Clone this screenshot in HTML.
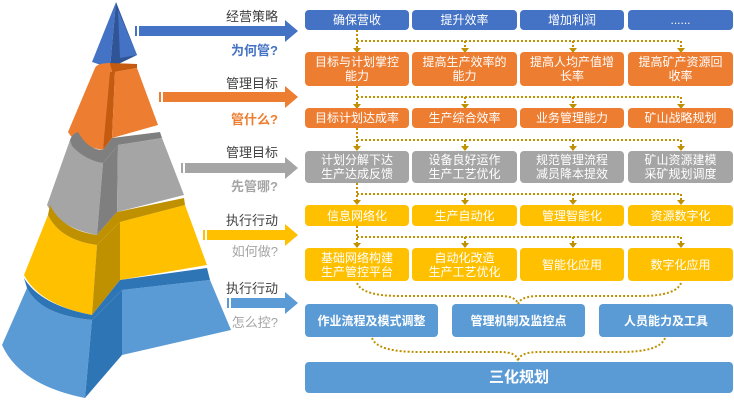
<!DOCTYPE html>
<html><head><meta charset="utf-8"><style>
body{margin:0;background:#fff;width:734px;height:400px;overflow:hidden;position:relative;font-family:"Liberation Sans","Noto Sans CJK SC",sans-serif}
.b{position:absolute;border-radius:4px;color:#fff;display:flex;align-items:center;justify-content:center;text-align:center;font-size:12px;line-height:14px}
.bl{background:#4472C4}.or{background:#ED7D31}.gr{background:#A5A5A5}.ye{background:#FFC000}.lb{background:#5B9BD5}
.t{position:absolute;font-size:13px;text-align:right;width:120px;left:158px;color:#404040}
.q{position:absolute;font-size:13px;font-weight:bold;text-align:right;width:120px;left:158px}
</style></head><body>
<svg width="734" height="400" style="position:absolute;left:0;top:0">
<path d="M116,2 L92,62 L110,68 Z" fill="#4472C4"/>
<path d="M116,2 L110,68 L137,55 Z" fill="#2F5597"/>
<path d="M118,10 L137,55 L120,58 Z" fill="#4472C4"/>
<path d="M95,68 Q97,63 110,63 L112,72 L103,150 Q75,145 68,132 Z" fill="#ED7D31"/>
<path d="M110,63 L137,64 L137,68 L115,72 L112,72Z" fill="#C55A11"/>
<path d="M110,72 L115,72 L112,138 L103,150 Z" fill="#C55A11"/>
<path d="M115,72 L137,68 L158,125 L112,138 Z" fill="#ED7D31"/>
<path d="M103,150 L112,138 L160,132 L162,138 L118,145 L103,163 Z" fill="#7F7F7F"/>
<path d="M70,140 Q85,158 103,160 L103,163 L97,235 Q60,228 47,205 Z" fill="#A5A5A5"/>
<path d="M70,140 Q72,134 78,132 Q88,150 103,150 L103,163 Q85,160 72,146Z" fill="#7F7F7F"/>
<path d="M103,163 L118,145 L117,212 L97,235 Z" fill="#7F7F7F"/>
<path d="M118,145 L162,138 L184,195 L117,212 Z" fill="#A5A5A5"/>
<path d="M48,215 Q60,240 97,245 L92,315 Q40,305 24,275 Z" fill="#FFC000"/>
<path d="M50,205 Q62,230 97,235 L97,245 Q60,240 48,215Z" fill="#BF9000"/>
<path d="M97,245 L120,222 L120,280 L92,315 Z" fill="#BF9000"/>
<path d="M120,222 L185,205 L207,265 L120,280 Z" fill="#FFC000"/>
<path d="M117,212 L184,198 L185,205 L120,222 L97,245 L97,235 Z" fill="#BF9000"/>
<path d="M27,288 Q40,315 92,320 L85,398 Q20,385 2,345 Z" fill="#5B9BD5"/>
<path d="M24,278 Q40,305 92,315 L92,320 Q40,315 27,288 Z" fill="#2E75B6"/>
<path d="M92,320 L122,290 L122,355 L85,398 Z" fill="#2E75B6"/>
<path d="M122,290 L210,280 L231,330 L122,355 Z" fill="#5B9BD5"/>
<path d="M120,280 L207,268 L210,280 L122,290 L92,320 L92,315 Z" fill="#2E75B6"/>
<g>
<path d="M139,26 H285 V20 L298,31 L285,42 V36 H139 Z" fill="#4472C4"/><rect x="135" y="26" width="2" height="10" fill="#4472C4"/>
<path d="M163,92 H285 V86 L298,97 L285,108 V102 H163 Z" fill="#ED7D31"/><rect x="159" y="92" width="2" height="10" fill="#ED7D31"/>
<path d="M185,163 H285 V157 L298,168 L285,179 V173 H185 Z" fill="#A5A5A5"/><rect x="181" y="163" width="2" height="10" fill="#A5A5A5"/>
<path d="M207,230 H285 V224 L298,235 L285,246 V240 H207 Z" fill="#FFC000"/><rect x="203" y="230" width="2" height="10" fill="#FFC000"/>
<path d="M231,298 H285 V292 L298,303 L285,314 V308 H231 Z" fill="#5B9BD5"/><rect x="227" y="298" width="2" height="10" fill="#5B9BD5"/>
</g>
<g stroke="#BF9000" stroke-width="2" stroke-dasharray="2,2" fill="none">
<path d="M357,30 V48 M357,41 H681 M465,41 V48 M573,41 V48 M681,41 V48"/>
<path d="M357,86 V104 M357,97 H681 M465,97 V104 M573,97 V104 M681,97 V104"/>
<path d="M357,128 V147 M357,140 H681 M465,140 V147 M573,140 V147 M681,140 V147"/>
<path d="M357,183 V201 M357,194 H681 M465,194 V201 M573,194 V201 M681,194 V201"/>
<path d="M357,226 V244 M357,237 H681 M465,237 V244 M573,237 V244 M681,237 V244"/>
<path d="M357,283 Q362,296 400,296 H500 Q518,296 518,306 M681,283 Q676,296 640,296 H540 Q518,296 518,306"/>
<path d="M372,338 Q377,352 420,352 H500 Q518,352 518,362 M665,338 Q660,352 620,352 H540 Q518,352 518,362"/>
</g>
<g fill="#BF9000">
<path d="M353,48 h8 l-4,5z M461,48 h8 l-4,5z M569,48 h8 l-4,5z M677,48 h8 l-4,5z"/>
<path d="M353,104 h8 l-4,5z M461,104 h8 l-4,5z M569,104 h8 l-4,5z M677,104 h8 l-4,5z"/>
<path d="M353,146 h8 l-4,5z M461,146 h8 l-4,5z M569,146 h8 l-4,5z M677,146 h8 l-4,5z"/>
<path d="M353,200 h8 l-4,5z M461,200 h8 l-4,5z M569,200 h8 l-4,5z M677,200 h8 l-4,5z"/>
<path d="M353,243 h8 l-4,5z M461,243 h8 l-4,5z M569,243 h8 l-4,5z M677,243 h8 l-4,5z"/>
</g>
</svg>
<div class="t" style="top:6px">经营策略</div><div class="q" style="top:40px;color:#4472C4">为何管?</div>
<div class="t" style="top:73px">管理目标</div><div class="q" style="top:109px;color:#ED7D31">管什么?</div>
<div class="t" style="top:142px">管理目标</div><div class="q" style="top:176px;color:#A5A5A5">先管哪?</div>
<div class="t" style="top:210px">执行行动</div><div class="q" style="top:241px;color:#A5A5A5;font-weight:normal">如何做?</div>
<div class="t" style="top:278px">执行行动</div><div class="q" style="top:312px;color:#A5A5A5;font-weight:normal">怎么控?</div>

<div class="b bl" style="left:305px;top:10px;width:104px;height:20px">确保营收</div>
<div class="b bl" style="left:412px;top:10px;width:105px;height:20px">提升效率</div>
<div class="b bl" style="left:520px;top:10px;width:104px;height:20px">增加利润</div>
<div class="b bl" style="left:628px;top:10px;width:105px;height:20px">......</div>

<div class="b or" style="left:305px;top:52px;width:104px;height:34px">目标与计划掌控<br>能力</div>
<div class="b or" style="left:412px;top:52px;width:105px;height:34px">提高生产效率的<br>能力</div>
<div class="b or" style="left:520px;top:52px;width:104px;height:34px">提高人均产值增<br>长率</div>
<div class="b or" style="left:628px;top:52px;width:105px;height:34px">提高矿产资源回<br>收率</div>

<div class="b or" style="left:305px;top:108px;width:104px;height:20px">目标计划达成率</div>
<div class="b or" style="left:412px;top:108px;width:105px;height:20px">生产综合效率</div>
<div class="b or" style="left:520px;top:108px;width:104px;height:20px">业务管理能力</div>
<div class="b or" style="left:628px;top:108px;width:105px;height:20px">矿山战略规划</div>

<div class="b gr" style="left:305px;top:151px;width:104px;height:32px">计划分解下达<br>生产达成反馈</div>
<div class="b gr" style="left:412px;top:151px;width:105px;height:32px">设备良好运作<br>生产工艺优化</div>
<div class="b gr" style="left:520px;top:151px;width:104px;height:32px">规范管理流程<br>减员降本提效</div>
<div class="b gr" style="left:628px;top:151px;width:105px;height:32px">矿山资源建模<br>采矿规划调度</div>

<div class="b ye" style="left:305px;top:205px;width:104px;height:21px">信息网络化</div>
<div class="b ye" style="left:412px;top:205px;width:105px;height:21px">生产自动化</div>
<div class="b ye" style="left:520px;top:205px;width:104px;height:21px">管理智能化</div>
<div class="b ye" style="left:628px;top:205px;width:105px;height:21px">资源数字化</div>

<div class="b ye" style="left:305px;top:248px;width:104px;height:33px">基础网络构建<br>生产管控平台</div>
<div class="b ye" style="left:412px;top:248px;width:105px;height:33px">自动化改造<br>生产工艺优化</div>
<div class="b ye" style="left:520px;top:248px;width:104px;height:33px">智能化应用</div>
<div class="b ye" style="left:628px;top:248px;width:105px;height:33px">数字化应用</div>

<div class="b lb" style="left:305px;top:304px;width:133px;height:33px;font-weight:bold">作业流程及模式调整</div>
<div class="b lb" style="left:452px;top:304px;width:133px;height:33px;font-weight:bold">管理机制及监控点</div>
<div class="b lb" style="left:599px;top:304px;width:134px;height:33px;font-weight:bold">人员能力及工具</div>
<div class="b lb" style="left:305px;top:362px;width:428px;height:31px;font-weight:bold;font-size:15px">三化规划</div>
</body></html>
